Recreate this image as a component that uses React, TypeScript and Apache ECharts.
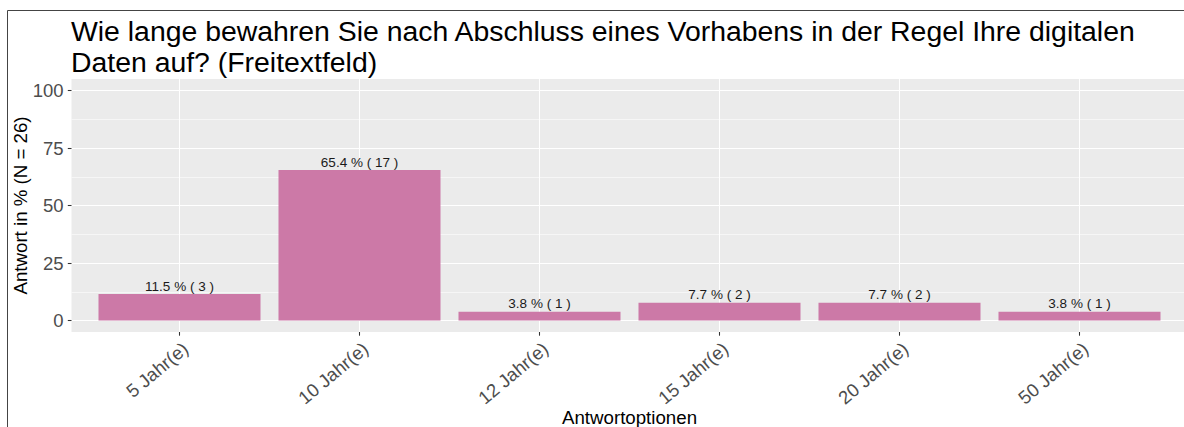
import React, { useEffect, useRef } from "react";
import * as echarts from "echarts";

const categories = ["5 Jahr(e)", "10 Jahr(e)", "12 Jahr(e)", "15 Jahr(e)", "20 Jahr(e)", "50 Jahr(e)"];
const percents = [11.5, 65.4, 3.8, 7.7, 7.7, 3.8];
const counts = [3, 17, 1, 2, 2, 1];
const yTicks = [0, 25, 50, 75, 100];
const yMinorTicks = [12.5, 37.5, 62.5, 87.5];
const titleText =
  "Wie lange bewahren Sie nach Abschluss eines Vorhabens in der Regel Ihre digitalen\nDaten auf? (Freitextfeld)";
const yTitle = "Antwort in % (N = 26)";
const xTitle = "Antwortoptionen";

export default function App() {
  const ref = useRef<HTMLDivElement>(null);
  useEffect(() => {
    const chart = echarts.init(ref.current!, null, { renderer: "svg" });
    const font = "'Liberation Sans', Arial, sans-serif";
    const catIdx = categories.map((_, i) => i);
    chart.setOption({
      animation: false,
      textStyle: { fontFamily: font },
      title: {
        text: titleText,
        left: 71,
        top: 15,
        padding: 0,
        textStyle: { fontSize: 28.4, lineHeight: 31, fontWeight: "normal", color: "#000", fontFamily: font },
      },
      grid: {
        left: 71.5,
        top: 79,
        width: 1116,
        height: 253,
        show: true,
        backgroundColor: "#EBEBEB",
        borderWidth: 0,
        containLabel: false,
        outerBoundsMode: "none",
      },
      xAxis: {
        type: "value",
        min: -0.6,
        max: 5.6,
        name: xTitle,
        nameLocation: "middle",
        nameGap: 76,
        nameMoveOverlap: false,
        nameTextStyle: { fontSize: 18.7, color: "#000", fontFamily: font },
        axisLine: { show: false, onZero: false },
        axisTick: { show: true, customValues: catIdx, length: 3.7, lineStyle: { color: "#333", width: 1.07 } },
        axisLabel: {
          customValues: catIdx.map((i) => i + 0.033),
          formatter: (v: number) => categories[Math.round(v)],
          rotate: 40,
          margin: 14,
          fontSize: 18.5,
          color: "#4D4D4D",
          fontFamily: font,
        },
        splitLine: { show: true, lineStyle: { color: "#FFFFFF", width: 1.07 } },
      },
      yAxis: [
        {
          type: "value",
          min: -5,
          max: 105,
          position: "left",
          name: yTitle,
          nameLocation: "middle",
          nameRotate: 90,
          nameGap: 42,
          nameMoveOverlap: false,
          nameTextStyle: { fontSize: 18.7, color: "#000", fontFamily: font },
          axisLine: { show: false, onZero: false },
          axisTick: { show: true, customValues: yTicks, length: 3.7, lineStyle: { color: "#333", width: 1.07 } },
          axisLabel: { customValues: yTicks, margin: 8, fontSize: 18.5, color: "#4D4D4D", fontFamily: font },
          splitLine: { show: true, lineStyle: { color: "#FFFFFF", width: 1.07 } },
        },
        {
          type: "value",
          min: -5,
          max: 105,
          position: "left",
          axisLine: { show: false, onZero: false },
          axisTick: { show: false, customValues: yMinorTicks },
          axisLabel: { show: false, customValues: yMinorTicks },
          splitLine: { show: true, lineStyle: { color: "#FFFFFF", width: 0.55 } },
        },
      ],
      series: [
        {
          type: "bar",
          yAxisIndex: 0,
          data: percents.map((p, i) => [i, p]),
          barWidth: 162,
          itemStyle: { color: "#CC79A7" },
          label: {
            show: true,
            position: "top",
            distance: 1,
            fontSize: 13.5,
            color: "#1A1A1A",
            fontFamily: font,
            formatter: (p: any) => `${percents[p.dataIndex].toFixed(1)} % ( ${counts[p.dataIndex]} )`,
          },
        },
      ],
      graphic: [
        { type: "line", shape: { x1: 7.5, y1: 10.5, x2: 1184, y2: 10.5 }, style: { stroke: "#444", lineWidth: 1 } },
        { type: "line", shape: { x1: 7.5, y1: 10.5, x2: 7.5, y2: 427 }, style: { stroke: "#444", lineWidth: 1 } },
      ],
    });
    return () => chart.dispose();
  }, []);
  return (
    <div
      ref={ref}
      style={{ position: "absolute", left: 0, top: 0, width: 1184, height: 427, overflow: "hidden", background: "#fff" }}
    />
  );
}
